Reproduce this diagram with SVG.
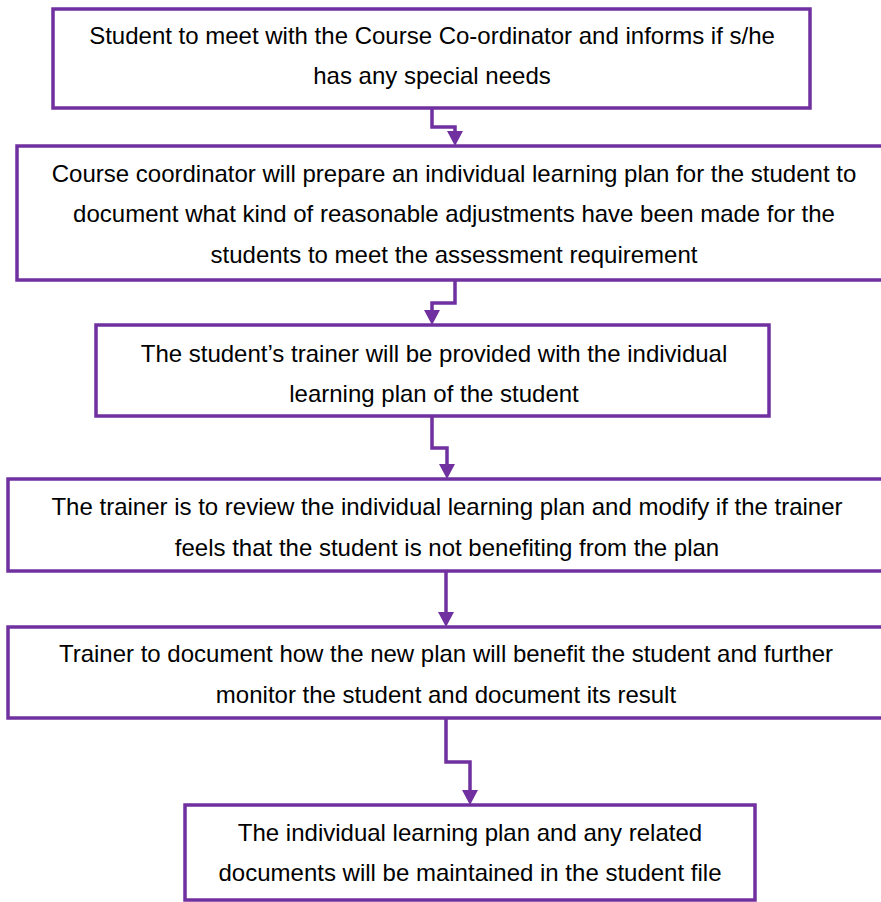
<svg xmlns="http://www.w3.org/2000/svg" width="881" height="902" viewBox="0 0 881 902">
<defs>
<style>
.box{fill:#fff;stroke:#7030A0;stroke-width:3.5}
.t{font-family:"Liberation Sans",Arial,sans-serif;font-size:24px;fill:#000;text-anchor:middle}
.c{fill:none;stroke:#7030A0;stroke-width:3.5}
.h{fill:#7030A0}
</style>
</defs>
<rect width="881" height="902" fill="#fff"/>
<g id="connectors">
<path class="c" d="M432,108 V127 H455 V131"/>
<path class="h" d="M447,131 H463 L455,146 Z"/>
<path class="c" d="M455,280 V303 H432 V310"/>
<path class="h" d="M424,310 H440 L432,325 Z"/>
<path class="c" d="M432,416 V448 H447 V464"/>
<path class="h" d="M439,464 H455 L447,479 Z"/>
<path class="c" d="M446,571 V612"/>
<path class="h" d="M438,612 H454 L446,627 Z"/>
<path class="c" d="M446,718 V762 H470 V790"/>
<path class="h" d="M462,790 H478 L470,805 Z"/>
</g>
<g id="n1">
<rect class="box" x="53" y="9" width="757" height="99"/>
<text class="t" x="432" y="44">Student to meet with the Course Co-ordinator and informs if s/he</text>
<text class="t" x="432" y="84">has any special needs</text>
</g>
<g id="n2">
<rect class="box" x="17" y="146" width="880" height="134"/>
<text class="t" x="454" y="182">Course coordinator will prepare an individual learning plan for the student to</text>
<text class="t" x="454" y="222">document what kind of reasonable adjustments have been made for the</text>
<text class="t" x="454" y="263">students to meet the assessment requirement</text>
</g>
<g id="n3">
<rect class="box" x="96" y="325" width="673" height="91"/>
<text class="t" x="434" y="362">The student’s trainer will be provided with the individual</text>
<text class="t" x="434" y="402">learning plan of the student</text>
</g>
<g id="n4">
<rect class="box" x="8" y="479" width="880" height="92"/>
<text class="t" x="447" y="515">The trainer is to review the individual learning plan and modify if the trainer</text>
<text class="t" x="447" y="556">feels that the student is not benefiting from the plan</text>
</g>
<g id="n5">
<rect class="box" x="8" y="627" width="880" height="91"/>
<text class="t" x="446" y="662">Trainer to document how the new plan will benefit the student and further</text>
<text class="t" x="446" y="703">monitor the student and document its result</text>
</g>
<g id="n6">
<rect class="box" x="185" y="805" width="570" height="95"/>
<text class="t" x="470" y="841">The individual learning plan and any related</text>
<text class="t" x="470" y="881">documents will be maintained in the student file</text>
</g>
</svg>
